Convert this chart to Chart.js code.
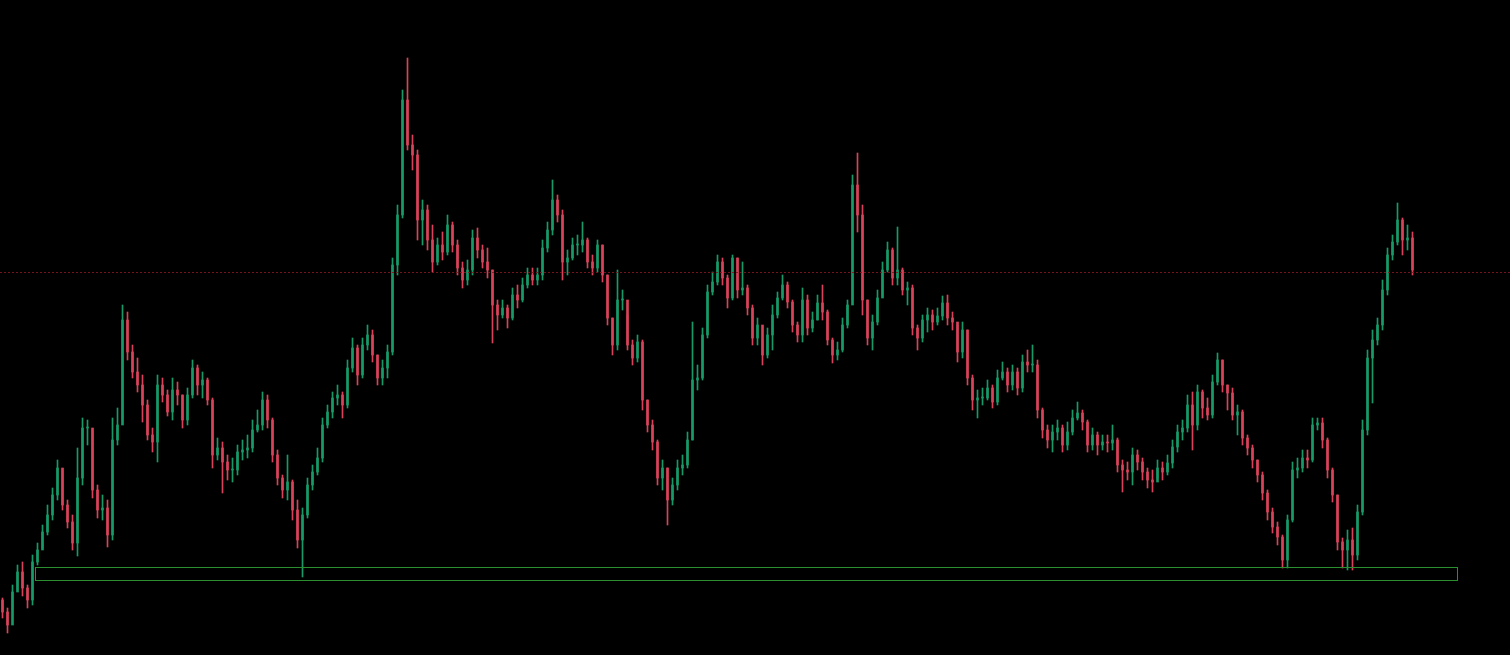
<!DOCTYPE html>
<html>
<head>
<meta charset="utf-8">
<script src="https://cdn.jsdelivr.net/npm/chart.js@4.4.1/dist/chart.umd.min.js"></script>
<style>
  html, body { margin: 0; padding: 0; background: #000; }
  #wrap { width: 1510px; height: 655px; position: relative; }
</style>
</head>
<body>
<div id="wrap"><canvas id="chart"></canvas></div>
<script>
// price series, one candle per slot (open = previous close)
const firstOpen = 400;

const closes = [
  388, 375, 408, 428, 412, 400, 438, 450, 468, 485,
  505, 532, 495, 478, 457, 522, 572, 572, 510, 490,
  492, 465, 560, 575, 680, 648, 628, 615, 595, 565,
  558, 615, 605, 588, 610, 605, 580, 605, 632, 615,
  620, 600, 545, 552, 538, 530, 530, 548, 550, 552,
  570, 575, 600, 580, 545, 522, 510, 518, 490, 460,
  485, 515, 528, 542, 575, 588, 602, 605, 595, 632,
  652, 625, 655, 665, 645, 622, 632, 648, 735, 785,
  900, 855, 845, 780, 790, 760, 738, 755, 748, 775,
  755, 732, 720, 730, 762, 750, 738, 730, 695, 685,
  692, 682, 705, 700, 715, 725, 720, 725, 752, 770,
  800, 785, 738, 742, 755, 755, 760, 738, 732, 755,
  725, 682, 655, 700, 700, 655, 642, 658, 600, 575,
  558, 522, 532, 500, 515, 532, 535, 560, 620, 622,
  665, 708, 718, 738, 722, 702, 742, 710, 712, 692,
  662, 675, 645, 665, 685, 702, 715, 698, 675, 665,
  700, 672, 680, 697, 688, 660, 645, 650, 675, 695,
  815, 785, 700, 662, 678, 702, 730, 750, 722, 730,
  710, 712, 672, 662, 680, 685, 678, 684, 697, 682,
  678, 648, 670, 622, 600, 602, 602, 612, 598, 622,
  628, 615, 628, 612, 638, 635, 635, 590, 570, 560,
  568, 572, 555, 568, 582, 587, 578, 555, 565, 555,
  558, 557, 560, 535, 530, 528, 545, 538, 528, 520,
  518, 532, 528, 537, 553, 568, 572, 595, 575, 608,
  592, 585, 618, 640, 615, 607, 585, 588, 562, 552,
  540, 525, 507, 488, 473, 463, 440, 480, 530, 532,
  542, 540, 575, 577, 560, 530, 505, 458, 450, 460,
  445, 488, 570, 642, 660, 675, 710, 745, 758, 780,
  760, 762, 730
];

const highs = [
  402, 392, 415, 435, 438, 415, 445, 457, 475, 495,
  512, 540, 530, 500, 485, 552, 582, 580, 570, 515,
  505, 500, 582, 592, 695, 688, 655, 642, 625, 600,
  572, 625, 622, 610, 622, 618, 605, 612, 640, 635,
  628, 622, 602, 562, 558, 545, 542, 555, 560, 565,
  580, 590, 608, 605, 582, 550, 525, 545, 520, 500,
  492, 522, 535, 552, 582, 595, 608, 615, 608, 640,
  662, 655, 662, 675, 670, 645, 640, 655, 742, 795,
  910, 942, 865, 850, 800, 795, 775, 762, 768, 785,
  778, 760, 738, 740, 770, 772, 755, 752, 730, 700,
  700, 695, 712, 715, 722, 732, 732, 732, 760, 778,
  820, 805, 790, 750, 762, 765, 778, 762, 745, 760,
  755, 725, 682, 730, 710, 685, 660, 665, 660, 600,
  580, 560, 540, 532, 522, 540, 545, 568, 678, 635,
  672, 715, 728, 745, 742, 725, 745, 742, 738, 715,
  695, 682, 660, 672, 695, 708, 725, 718, 700, 678,
  712, 705, 688, 705, 715, 690, 662, 658, 682, 700,
  825, 847, 795, 700, 685, 710, 738, 758, 752, 773,
  732, 718, 715, 675, 685, 692, 690, 692, 704, 705,
  688, 675, 678, 670, 625, 610, 612, 620, 615, 630,
  638, 632, 635, 632, 645, 650, 655, 640, 592, 575,
  575, 580, 575, 578, 590, 598, 590, 580, 572, 568,
  565, 565, 575, 562, 540, 538, 552, 550, 542, 532,
  530, 540, 538, 545, 560, 575, 580, 605, 608, 615,
  610, 602, 625, 647, 640, 615, 612, 595, 590, 565,
  555, 540, 528, 510, 492, 478, 465, 485, 538, 542,
  550, 550, 582, 582, 582, 562, 532, 505, 462, 470,
  472, 495, 580, 650, 670, 682, 720, 752, 765, 797,
  782, 775, 768
];

const lows = [
  382, 367, 390, 410, 404, 392, 395, 435, 452, 465,
  480, 500, 490, 472, 450, 444, 515, 555, 502, 482,
  480, 453, 460, 555, 580, 640, 622, 608, 578, 560,
  548, 538, 598, 584, 580, 595, 572, 575, 602, 605,
  602, 595, 532, 540, 507, 520, 518, 525, 540, 542,
  548, 568, 570, 572, 538, 515, 502, 500, 480, 452,
  423, 482, 510, 525, 538, 572, 582, 595, 582, 592,
  628, 615, 622, 650, 638, 615, 615, 622, 645, 725,
  782, 850, 830, 760, 755, 750, 728, 735, 740, 745,
  748, 725, 712, 715, 725, 742, 732, 722, 657, 670,
  682, 672, 680, 692, 698, 712, 715, 715, 720, 748,
  765, 778, 720, 725, 740, 745, 748, 732, 725, 728,
  718, 675, 645, 650, 690, 650, 635, 638, 590, 568,
  550, 515, 510, 475, 495, 510, 525, 532, 560, 610,
  620, 662, 705, 715, 715, 692, 700, 702, 705, 685,
  655, 655, 635, 642, 650, 682, 700, 692, 668, 658,
  658, 665, 668, 680, 680, 655, 637, 640, 648, 672,
  700, 768, 685, 655, 650, 675, 705, 728, 715, 715,
  705, 695, 665, 650, 658, 668, 670, 675, 680, 675,
  670, 638, 642, 615, 590, 582, 595, 600, 592, 595,
  620, 608, 610, 605, 608, 628, 628, 582, 562, 552,
  548, 560, 548, 550, 565, 580, 570, 548, 550, 545,
  550, 548, 550, 528, 508, 520, 515, 530, 520, 512,
  508, 522, 520, 525, 532, 548, 560, 568, 550, 570,
  582, 580, 582, 615, 608, 590, 580, 565, 555, 545,
  532, 518, 500, 480, 467, 455, 432, 432, 478, 522,
  528, 532, 538, 570, 552, 522, 498, 450, 432, 430,
  430, 440, 485, 565, 597, 655, 670, 705, 740, 755,
  745, 750, 725
];

// reference levels
const lastPriceLevel = 728;
const zoneTop = 433;
const zoneBottom = 420;
const zoneFrom = 6.5;   // candle index
const zoneTo = 290.9;

const UP = '#169a68';
const DOWN = '#d9435a';

const opens = closes.map((c, i) => (i === 0 ? firstOpen : closes[i - 1]));
const colors = closes.map((c, i) => (c >= opens[i] ? UP : DOWN));

const wicks = closes.map((c, i) => ({ x: i, y: [lows[i], highs[i]] }));
const bodies = closes.map((c, i) => ({ x: i, y: [opens[i], c] }));

// draws the dashed last-price line and the support box
const overlays = {
  id: 'overlays',
  beforeDraw(chart) {
    const { ctx, width, height } = chart;
    ctx.save();
    ctx.fillStyle = '#000';
    ctx.fillRect(0, 0, width, height);
    ctx.restore();
  },
  afterDatasetsDraw(chart) {
    const { ctx, chartArea, scales } = chart;
    const x = scales.x, y = scales.y;
    ctx.save();

    const ly = Math.round(y.getPixelForValue(lastPriceLevel)) + 0.5;
    ctx.strokeStyle = 'rgba(130, 22, 32, 0.9)';
    ctx.lineWidth = 1;
    ctx.setLineDash([2, 2]);
    ctx.beginPath();
    ctx.moveTo(chartArea.left, ly);
    ctx.lineTo(chartArea.right, ly);
    ctx.stroke();

    ctx.setLineDash([]);
    const x0 = Math.round(x.getPixelForValue(zoneFrom)) + 0.5;
    const x1 = Math.round(x.getPixelForValue(zoneTo)) + 0.5;
    const y0 = Math.round(y.getPixelForValue(zoneTop)) + 0.5;
    const y1 = Math.round(y.getPixelForValue(zoneBottom)) + 0.5;
    ctx.strokeStyle = '#2a8f2e';
    ctx.strokeRect(x0, y0, x1 - x0, y1 - y0);

    ctx.restore();
  }
};

new Chart(document.getElementById('chart'), {
  type: 'bar',
  data: {
    datasets: [
      {
        label: 'wick',
        data: wicks,
        backgroundColor: colors,
        barThickness: 1,
        grouped: false,
        order: 2
      },
      {
        label: 'body',
        data: bodies,
        backgroundColor: colors,
        barThickness: 2,
        minBarLength: 1,
        grouped: false,
        order: 1
      }
    ]
  },
  options: {
    responsive: true,
    maintainAspectRatio: false,
    animation: false,
    layout: { padding: 0 },
    plugins: {
      legend: { display: false },
      tooltip: { enabled: false }
    },
    scales: {
      x: { type: 'linear', min: -0.5, max: 301.5, offset: false, display: false },
      y: { min: 345, max: 1000, display: false }
    }
  },
  plugins: [overlays]
});
</script>
</body>
</html>
